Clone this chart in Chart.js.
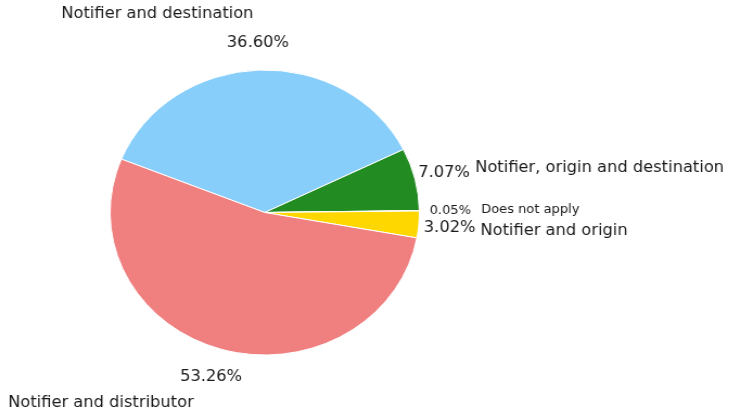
<!DOCTYPE html>
<html>
<head>
<meta charset="utf-8">
<script src="https://cdn.jsdelivr.net/npm/chart.js@4/dist/chart.umd.min.js"></script>
<style>
  html, body { margin: 0; padding: 0; background: #fff; overflow: hidden; }
  #wrap { width: 672px; height: 414px; transform: scaleX(1.085); transform-origin: 0 0; }
</style>
</head>
<body>
<div id="wrap"><canvas id="pieChart"></canvas></div>
<script>
'use strict';

var categories = ['Notifier and destination', 'Notifier, origin and destination', 'Does not apply', 'Notifier and origin', 'Notifier and distributor'];
var shares = [36.60, 7.07, 0.05, 3.02, 53.26];
var sliceColors = ['#87CEFA', '#228B22', '#FF6347', '#FFD700', '#F08080'];

// label look per slice: font size and a small x/y nudge
var nameSizes = [15, 15, 12, 15, 15];
var pctSizes = [15, 15, 12, 15, 15];
var nameNudge = [[-3, 1], [0, 2], [0, 0], [0, 2], [-10, -1]];
var pctNudge = [[0, 1], [-1, 1], [0, 0], [0, 1], [-2, 0]];

var ctx = document.getElementById('pieChart').getContext('2d');

var outsideLabels = {
  id: 'outsideLabels',
  afterDraw: function(chart) {
    var c = chart.ctx;
    var arcs = chart.getDatasetMeta(0).data;
    c.save();
    c.fillStyle = '#1a1a1a';
    c.textBaseline = 'middle';
    for (var i = 0; i < arcs.length; i++) {
      var a = arcs[i];
      var mid = (a.startAngle + a.endAngle) / 2;
      var cx = Math.cos(mid);
      var sy = Math.sin(mid);
      var r = a.outerRadius;

      c.font = pctSizes[i] + 'px "DejaVu Sans"';
      c.textAlign = 'center';
      c.fillText(shares[i].toFixed(2) + '%',
        a.x + cx * r * 1.2 + pctNudge[i][0], a.y + sy * r * 1.2 + pctNudge[i][1]);

      c.font = nameSizes[i] + 'px "DejaVu Sans"';
      c.textAlign = cx >= 0 ? 'left' : 'right';
      c.fillText(categories[i],
        a.x + cx * r * 1.4 + nameNudge[i][0], a.y + sy * r * 1.4 + nameNudge[i][1]);
    }
    c.restore();
  }
};

var myChart = new Chart(ctx, {
  type: 'pie',
  data: {
    labels: categories,
    datasets: [{
      data: shares,
      backgroundColor: sliceColors,
      borderColor: '#ffffff',
      borderWidth: 1
    }]
  },
  options: {
    responsive: true,
    maintainAspectRatio: false,
    animation: false,
    rotation: -68,
    layout: {
      padding: { top: 69, bottom: 58, left: 101, right: 285 }
    },
    plugins: {
      legend: { display: false },
      tooltip: { enabled: false }
    }
  },
  plugins: [outsideLabels]
});
</script>
</body>
</html>
